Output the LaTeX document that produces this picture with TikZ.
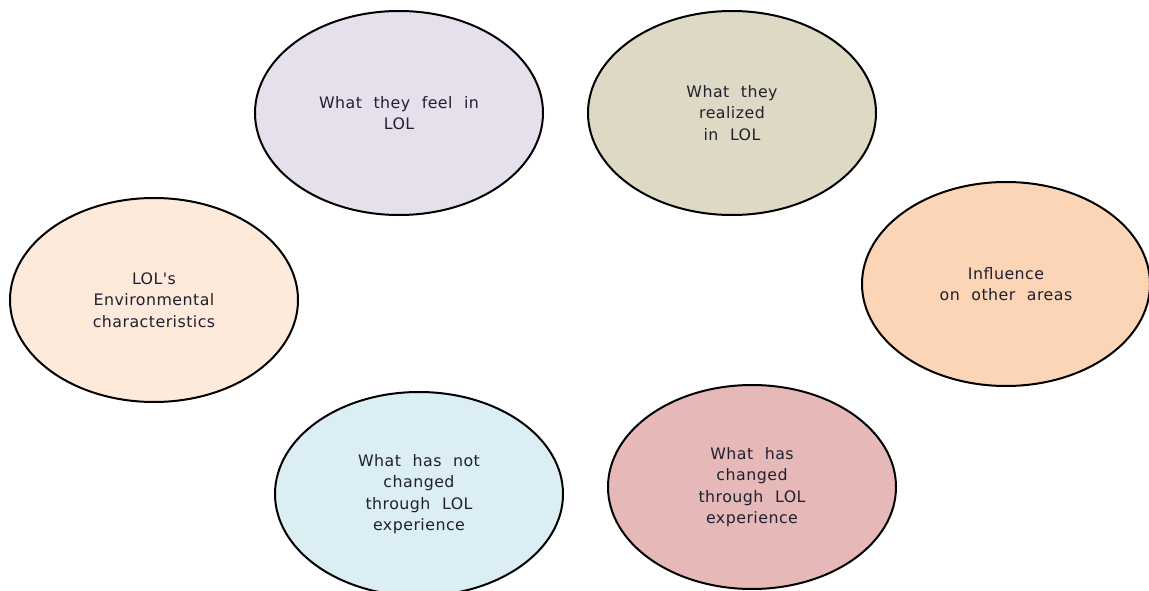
\documentclass[tikz,border=0pt]{standalone}
\usepackage{fontspec}
\setmainfont{DejaVu Sans}
\newfontfamily\bubblefont[LetterSpace=3,WordSpace=2.1]{DejaVu Sans}
\usetikzlibrary{shapes.geometric}
\definecolor{cLav}{HTML}{E5E0EC}
\definecolor{cBeige}{HTML}{DDD9C4}
\definecolor{cPeach}{HTML}{FDEADA}
\definecolor{cOrange}{HTML}{FBD5B5}
\definecolor{cBlue}{HTML}{DBEEF4}
\definecolor{cPink}{HTML}{E6B9B8}
\definecolor{cText}{HTML}{202030}
\tikzset{
  bubble/.style={ellipse, draw=black, line width=2pt, inner sep=0pt,
    minimum width=288pt, minimum height=204pt, align=center,
    text=cText, font=\bubblefont\fontsize{15.8}{21.5}\selectfont}
}
\begin{document}
\begin{tikzpicture}[x=1pt,y=-1pt]
\useasboundingbox (0,0) rectangle (1149,591);
\node[bubble, fill=cLav] (feel) at (399,113) {What they feel in\\LOL};
\node[bubble, fill=cBeige] (realized) at (732,113) {What they\\realized\\in LOL};
\node[bubble, fill=cPeach] (env) at (154,300) {LOL\char"0027 s\\Environmental\\characteristics};
\node[bubble, fill=cOrange] (influence) at (1006,284) {Influence\\on other areas};
\node[bubble, fill=cBlue] (notchanged) at (419,494) {What has not\\changed\\through LOL\\experience};
\node[bubble, fill=cPink] (changed) at (752,487) {What has\\changed\\through LOL\\experience};
\end{tikzpicture}
\end{document}
